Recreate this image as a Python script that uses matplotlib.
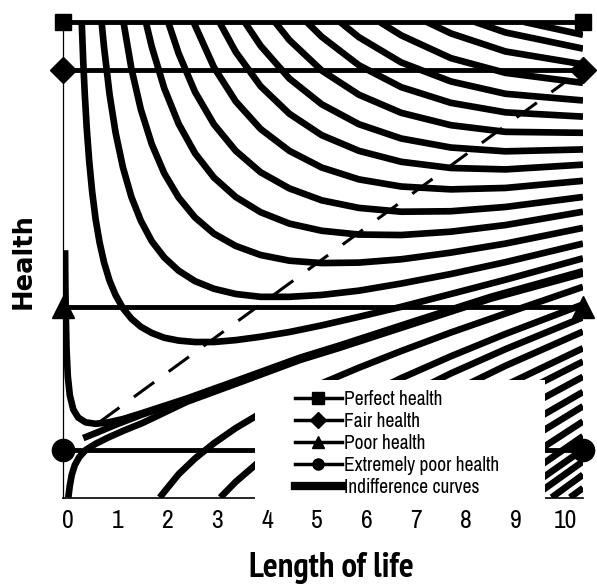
import matplotlib
matplotlib.use('Agg')
import matplotlib.pyplot as plt
from matplotlib.lines import Line2D
from matplotlib.patches import Rectangle

# ---------------- data ----------------
x_tick_labels = ['0', '1', '2', '3', '4', '5', '6', '7', '8', '9', '10']
x_ticks = [0, 1, 2, 3, 4, 5, 6, 7, 8, 9, 10]
x_min, x_max = -0.107, 10.36

health_names = ['Perfect health', 'Fair health', 'Poor health', 'Extremely poor health']
health_levels = [1.0, 0.9, 0.4, 0.1]
curve_label = 'Indifference curves'

# indifference curves entering from the top (perfect health)
upper_x = [
    [0.27, 0.3, 0.33, 0.37, 0.42, 0.48, 0.55, 0.63, 0.72, 0.83, 0.95, 1.1, 1.27, 1.46, 1.68, 1.93, 2.22, 2.55, 2.93, 3.37, 3.87, 4.45, 5.1, 5.85, 6.7, 7.7, 8.8, 10.36],
    [0.67, 0.72, 0.83, 0.95, 1.1, 1.27, 1.46, 1.68, 1.93, 2.22, 2.55, 2.93, 3.37, 3.87, 4.45, 5.1, 5.85, 6.7, 7.7, 8.8, 10.36],
    [1.11, 1.27, 1.46, 1.68, 1.93, 2.22, 2.55, 2.93, 3.37, 3.87, 4.45, 5.1, 5.85, 6.7, 7.7, 8.8, 10.36],
    [1.56, 1.68, 1.93, 2.22, 2.55, 2.93, 3.37, 3.87, 4.45, 5.1, 5.85, 6.7, 7.7, 8.8, 10.36],
    [2.01, 2.22, 2.55, 2.93, 3.37, 3.87, 4.45, 5.1, 5.85, 6.7, 7.7, 8.8, 10.36],
    [2.52, 2.93, 3.37, 3.87, 4.45, 5.1, 5.85, 6.7, 7.7, 8.8, 10.36],
    [3.04, 3.37, 3.87, 4.45, 5.1, 5.85, 6.7, 7.7, 8.8, 10.36],
    [3.55, 3.87, 4.45, 5.1, 5.85, 6.7, 7.7, 8.8, 10.36],
    [4.16, 4.45, 5.1, 5.85, 6.7, 7.7, 8.8, 10.36],
    [4.8, 5.1, 5.85, 6.7, 7.7, 8.8, 10.36],
    [5.47, 5.85, 6.7, 7.7, 8.8, 10.36],
    [6.27, 6.7, 7.7, 8.8, 10.36],
    [7.22, 7.7, 8.8, 10.36],
    [8.19, 8.8, 10.36],
    [9.18, 10.36],
]
upper_y = [
    [1.0, 0.918, 0.851, 0.778, 0.708, 0.643, 0.585, 0.536, 0.494, 0.456, 0.426, 0.398, 0.376, 0.359, 0.346, 0.336, 0.330, 0.327, 0.327, 0.331, 0.338, 0.348, 0.362, 0.380, 0.401, 0.428, 0.458, 0.503],
    [1.0, 0.946, 0.848, 0.768, 0.694, 0.632, 0.582, 0.539, 0.505, 0.477, 0.455, 0.439, 0.428, 0.422, 0.422, 0.426, 0.435, 0.450, 0.470, 0.495, 0.534],
    [1.0, 0.902, 0.816, 0.743, 0.682, 0.631, 0.589, 0.555, 0.529, 0.510, 0.498, 0.493, 0.494, 0.501, 0.515, 0.534, 0.567],
    [1.0, 0.948, 0.861, 0.786, 0.724, 0.673, 0.632, 0.600, 0.576, 0.561, 0.553, 0.552, 0.559, 0.573, 0.601],
    [1.0, 0.934, 0.853, 0.785, 0.729, 0.684, 0.650, 0.625, 0.609, 0.601, 0.602, 0.611, 0.632],
    [1.0, 0.905, 0.833, 0.775, 0.729, 0.694, 0.669, 0.654, 0.648, 0.651, 0.666],
    [1.0, 0.937, 0.865, 0.807, 0.762, 0.729, 0.706, 0.693, 0.690, 0.700],
    [1.0, 0.950, 0.881, 0.827, 0.785, 0.755, 0.736, 0.728, 0.732],
    [1.0, 0.962, 0.898, 0.847, 0.809, 0.783, 0.769, 0.767],
    [1.0, 0.969, 0.909, 0.863, 0.830, 0.810, 0.801],
    [1.0, 0.968, 0.915, 0.875, 0.849, 0.835],
    [1.0, 0.972, 0.924, 0.893, 0.872],
    [1.0, 0.976, 0.938, 0.911],
    [1.0, 0.978, 0.944],
    [1.0, 0.973],
]

# indifference curves rising from the bottom axis
lower_x = [
    [1.84, 2.22, 2.55, 2.93, 3.37, 3.87, 4.45, 5.1, 5.85, 6.7, 7.7, 8.8, 10.36],
    [3.06, 3.37, 3.87, 4.45, 5.1, 5.85, 6.7, 7.7, 8.8, 10.36],
    [3.81, 4.45, 5.1, 5.85, 6.7, 7.7, 8.8, 10.36],
    [4.55, 5.1, 5.85, 6.7, 7.7, 8.8, 10.36],
    [5.32, 5.85, 6.7, 7.7, 8.8, 10.36],
    [5.89, 6.7, 7.7, 8.8, 10.36],
    [6.5, 7.7, 8.8, 10.36],
    [7.07, 7.7, 8.8, 10.36],
    [7.59, 8.8, 10.36],
    [8.1, 8.8, 10.36],
    [8.57, 10.36],
    [8.98, 10.36],
    [9.34, 10.36],
    [9.73, 10.36],
    [10.1, 10.36],
]
lower_y = [
    [0.0, 0.049, 0.082, 0.114, 0.146, 0.177, 0.208, 0.240, 0.273, 0.308, 0.347, 0.387, 0.443],
    [0.0, 0.033, 0.078, 0.123, 0.165, 0.208, 0.251, 0.297, 0.344, 0.406],
    [0.0, 0.060, 0.110, 0.160, 0.209, 0.261, 0.312, 0.379],
    [0.0, 0.049, 0.107, 0.163, 0.221, 0.277, 0.349],
    [0.0, 0.046, 0.109, 0.174, 0.236, 0.314],
    [0.0, 0.066, 0.136, 0.203, 0.286],
    [0.0, 0.094, 0.166, 0.254],
    [0.0, 0.051, 0.128, 0.222],
    [0.0, 0.092, 0.192],
    [0.0, 0.054, 0.160],
    [0.0, 0.129],
    [0.0, 0.101],
    [0.0, 0.076],
    [0.0, 0.048],
    [0.0, 0.020],
]

# curves that bunch together at the extremely-poor-health corner
near_zero_x = [
    [-0.065, -0.06, -0.05, -0.035, -0.01, 0.03, 0.1, 0.2, 0.35, 0.55, 0.8, 1.1, 1.5, 2.38, 3.5, 4.66, 5.467, 7.0, 8.5, 10.36],
    [0.3, 0.54, 1.0, 1.5, 2.38, 3.5, 4.66, 5.467, 7.0, 8.5, 10.36],
    [0.0, 0.03, 0.07, 0.13, 0.22, 0.35, 0.55, 0.8, 1.1, 1.5, 2.38, 3.5, 4.66, 5.467, 7.0, 8.5, 10.36],
]
near_zero_y = [
    [0.52, 0.45, 0.38, 0.31, 0.255, 0.215, 0.185, 0.168, 0.158, 0.155, 0.158, 0.165, 0.178, 0.208, 0.25, 0.294, 0.32, 0.372, 0.422, 0.476],
    [0.125, 0.135, 0.155, 0.175, 0.205, 0.247, 0.292, 0.318, 0.37, 0.42, 0.474],
    [0.0, 0.025, 0.048, 0.068, 0.085, 0.1, 0.113, 0.126, 0.14, 0.157, 0.201, 0.244, 0.289, 0.315, 0.367, 0.418, 0.471],
]

# dashed line (locus of minima)
dashed_x = [0.62, 10.03]
dashed_y = [0.158, 0.876]

# ---------------- drawing ----------------
narrow = ['Archivo Narrow', 'Liberation Sans']
fig = plt.figure(figsize=(5.97, 5.84), dpi=100)
ax = fig.add_axes([63 / 597, (584 - 497.5) / 584, (583 - 63) / 597, (497.5 - 22) / 584])
ax.set_xlim(x_min, x_max)
ax.set_ylim(0, 1)

for xs, ys in zip(upper_x + lower_x + near_zero_x, upper_y + lower_y + near_zero_y):
    ax.plot(xs, ys, color='black', lw=4.8, solid_capstyle='butt', solid_joinstyle='round', zorder=2)
ax.plot(dashed_x, dashed_y, color='black', lw=2.2, ls=(0, (8.2, 5.9)), zorder=2)

markers = ['s', 'D', '^', 'o']
marker_sizes = [12, 13.5, 16, 16]
for lev, mk, ms in zip(health_levels, markers, marker_sizes):
    ax.plot([x_min, x_max], [lev, lev], color='black', lw=3.5, marker=mk, ms=ms, clip_on=False, zorder=3)

for s in ['top', 'right']:
    ax.spines[s].set_visible(False)
ax.spines['left'].set_linewidth(0.9)
ax.spines['bottom'].set_linewidth(1.2)
ax.set_yticks([])
ax.set_xticks(x_ticks)
ax.set_xticklabels(x_tick_labels, fontfamily=narrow, fontsize=18.5)
ax.tick_params(axis='x', length=0, pad=8)

# white legend panel (hides curves and axis behind it)
ax.add_patch(Rectangle((0.369, -0.01), 0.558, 0.257, transform=ax.transAxes, facecolor='white',
                       edgecolor='none', zorder=4, clip_on=False))
handles = [Line2D([], [], color='black', lw=2.5, marker=m, ms=s) for m, s in zip(markers, [8, 8, 9, 8])]
handles.append(Line2D([], [], color='black', lw=6))
ax.legend(handles, health_names + [curve_label], loc='upper left', bbox_to_anchor=(0.446, 0.226),
          frameon=False, prop={'family': narrow, 'size': 14}, handlelength=2.4, handletextpad=0.1,
          labelspacing=0.15, borderpad=0, borderaxespad=0)

fig.text(331.5 / 597, (584 - 577) / 584, 'Length of life', ha='center', va='baseline', fontsize=25,
         fontweight='bold', family=['PT Sans Narrow', 'DejaVu Sans'])
fig.text(24 / 597, 1 - 261 / 584, 'Health', rotation=90, ha='center', va='center', fontsize=18.5,
         fontweight='bold', family='DejaVu Sans')
fig.savefig('out.png', dpi=100)
